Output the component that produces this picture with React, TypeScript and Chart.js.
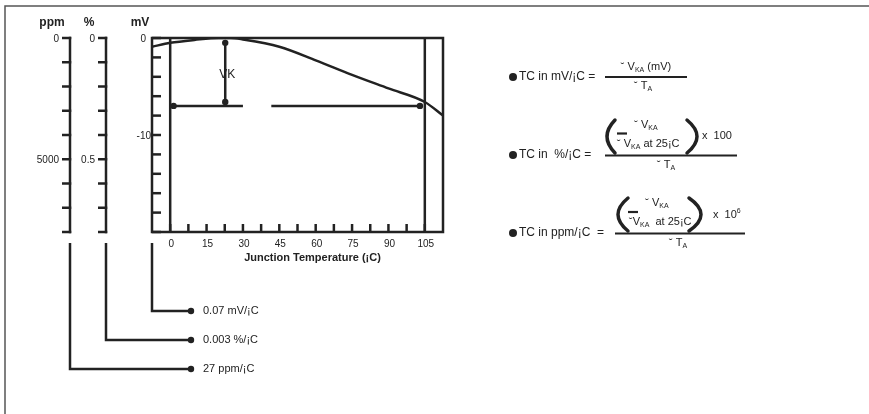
import React, { useEffect, useRef } from "react";
import { Chart, registerables } from "chart.js";

Chart.register(...registerables);

// ---- data ----
const tempC = [-7.5, 0, 10, 20, 25, 30, 45, 60, 75, 90, 105, 112.5];
const vkaMv = [-0.9, -0.5, -0.2, 0, 0, -0.15, -0.9, -2.3, -3.8, -5.2, -6.6, -8.0];

const xTicks = [0, 7.5, 15, 22.5, 30, 37.5, 45, 52.5, 60, 67.5, 75, 82.5, 90, 97.5, 105];
const xTickLabels = [0, 15, 30, 45, 60, 75, 90, 105];
const mvTicks = [0, -2, -4, -6, -8, -10, -12, -14, -16, -18, -20];
const mvTickLabels = [0, -10];
const ppmTicks = [0, 1000, 2000, 3000, 4000, 5000, 6000, 7000, 8000];
const ppmTickLabels = [0, 5000];
const pctTicks = [0, 0.1, 0.2, 0.3, 0.4, 0.5, 0.6, 0.7, 0.8];
const pctTickLabels = [0, 0.5];

const vkArrowT = [22.7, 22.7];
const vkArrowV = [-0.5, -6.6];
const refLineLeftT = [1.4, 30];
const refLineRightT = [41.7, 103];
const refLineV = -7;
const boundT = [0, 105];

const tcResults = ["0.07 mV/\u00a1C", "0.003 %/\u00a1C", "27 ppm/\u00a1C"];

const INK = "#222";
const FONT = '"Liberation Sans", Arial, sans-serif';

type Part = [string, number];

function rich(ctx: CanvasRenderingContext2D, parts: Part[], x: number, y: number, size: number, align: "left" | "center" = "left") {
  const fontOf = (m: number) => `${m ? Math.round(size * 0.62) : size}px ${FONT}`;
  let w = 0;
  for (const [t, m] of parts) {
    ctx.font = fontOf(m);
    w += ctx.measureText(t).width;
  }
  let cx = align === "center" ? x - w / 2 : x;
  ctx.textAlign = "left";
  ctx.textBaseline = "middle";
  for (const [t, m] of parts) {
    ctx.font = fontOf(m);
    const dy = m === 1 ? 3 : m === 2 ? -4 : 0;
    ctx.fillText(t, cx, y + dy);
    cx += ctx.measureText(t).width;
  }
}

function paren(ctx: CanvasRenderingContext2D, x: number, top: number, bottom: number, bulgeX: number) {
  const mid = (top + bottom) / 2;
  const cx = 2 * bulgeX - x;
  ctx.beginPath();
  ctx.moveTo(x, top);
  ctx.quadraticCurveTo(cx, mid, x, bottom);
  ctx.lineWidth = 3.5;
  ctx.lineCap = "round";
  ctx.stroke();
  ctx.lineCap = "butt";
}

function line(ctx: CanvasRenderingContext2D, pts: number[][], w = 2.5) {
  ctx.beginPath();
  ctx.moveTo(pts[0][0], pts[0][1]);
  for (let i = 1; i < pts.length; i++) ctx.lineTo(pts[i][0], pts[i][1]);
  ctx.lineWidth = w;
  ctx.stroke();
}

function dot(ctx: CanvasRenderingContext2D, x: number, y: number, r = 3.2) {
  ctx.beginPath();
  ctx.arc(x, y, r, 0, Math.PI * 2);
  ctx.fill();
}

const decor = {
  id: "decor",
  afterDraw(chart: any) {
    const ctx: CanvasRenderingContext2D = chart.ctx;
    const { x, y, yPpm, yPct } = chart.scales;
    const a = chart.chartArea;
    ctx.save();
    ctx.strokeStyle = INK;
    ctx.fillStyle = INK;

    // outer frame
    ctx.strokeStyle = "#555";
    line(ctx, [[5, 414], [5, 6], [869, 6]], 1.5);
    ctx.strokeStyle = INK;

    // chart box
    ctx.lineWidth = 2.5;
    ctx.strokeRect(a.left, a.top, a.right - a.left, a.bottom - a.top);

    // x ticks (inward)
    for (const t of xTicks) {
      const px = x.getPixelForValue(t);
      line(ctx, [[px, a.bottom], [px, a.bottom - 8]]);
    }
    ctx.font = `10px ${FONT}`;
    ctx.textAlign = "center";
    ctx.textBaseline = "middle";
    for (const t of xTickLabels) ctx.fillText(String(t), x.getPixelForValue(t) + 1, a.bottom + 12);
    ctx.font = `bold 11px ${FONT}`;
    ctx.fillText("Junction Temperature (\u00a1C)", (a.left + a.right) / 2 + 15, a.bottom + 26);

    // mV axis ticks (inward)
    for (const v of mvTicks) {
      const py = y.getPixelForValue(v);
      line(ctx, [[a.left, py], [a.left + 9, py]]);
    }
    ctx.font = `10px ${FONT}`;
    ctx.textAlign = "right";
    for (const v of mvTickLabels) ctx.fillText(String(v), a.left - (v === 0 ? 6 : 1), y.getPixelForValue(v) + 1);

    // ppm and % axes
    const axes = [
      { sc: yPpm, ax: 70, ticks: ppmTicks, labels: ppmTickLabels, name: "ppm", nx: 52 },
      { sc: yPct, ax: 106, ticks: pctTicks, labels: pctTickLabels, name: "%", nx: 89 },
    ];
    for (const A of axes) {
      const t0 = A.sc.getPixelForValue(A.ticks[0]);
      const t1 = A.sc.getPixelForValue(A.ticks[A.ticks.length - 1]);
      line(ctx, [[A.ax, t0 - 1.25], [A.ax, t1 + 1.25]]);
      for (const v of A.ticks) {
        const py = A.sc.getPixelForValue(v);
        line(ctx, [[A.ax - 8, py], [A.ax + 1.25, py]]);
      }
      ctx.font = `10px ${FONT}`;
      ctx.textAlign = "right";
      for (const v of A.labels) ctx.fillText(String(v), A.ax - 11, A.sc.getPixelForValue(v) + 1);
      ctx.font = `bold 12px ${FONT}`;
      ctx.textAlign = "center";
      ctx.fillText(A.name, A.nx, 23);
    }
    ctx.font = `bold 12px ${FONT}`;
    ctx.textAlign = "center";
    ctx.fillText("mV", 140, 23);

    // VK label
    ctx.font = `12px ${FONT}`;
    ctx.fillText("VK", x.getPixelForValue(vkArrowT[0]) + 2, 75);

    // leader lines to results
    const leaders = [
      { lx: a.left, ly: 311 },
      { lx: 106, ly: 340 },
      { lx: 70, ly: 369 },
    ];
    leaders.forEach((L, i) => {
      line(ctx, [[L.lx, a.bottom + 11], [L.lx, L.ly], [190, L.ly]]);
      dot(ctx, 191, L.ly);
      ctx.font = `11px ${FONT}`;
      ctx.textAlign = "left";
      ctx.textBaseline = "middle";
      ctx.fillText(tcResults[i], 203, L.ly);
    });

    // formulas
    const B = "\u02d8 ";
    // 1
    dot(ctx, 513, 77, 4);
    ctx.font = `12px ${FONT}`;
    ctx.textAlign = "left";
    ctx.textBaseline = "middle";
    ctx.fillText("TC in mV/\u00a1C =", 519, 77);
    line(ctx, [[605, 77], [687, 77]], 1.8);
    rich(ctx, [[B + "V", 0], ["KA", 1], [" (mV)", 0]], 646, 67, 11, "center");
    rich(ctx, [[B + "T", 0], ["A", 1]], 643, 86, 11, "center");

    // 2
    dot(ctx, 513, 155, 4);
    ctx.font = `12px ${FONT}`;
    ctx.fillText("TC in  %/\u00a1C =", 519, 155);
    line(ctx, [[605, 155.5], [737, 155.5]], 1.8);
    paren(ctx, 615, 120, 153, 607);
    paren(ctx, 687, 120, 153, 697);
    rich(ctx, [[B + "V", 0], ["KA", 1]], 646, 125, 11, "center");
    line(ctx, [[617, 133.5], [627, 133.5]], 2.2);
    rich(ctx, [[B + "V", 0], ["KA", 1], [" at 25\u00a1C", 0]], 617, 144, 11);
    rich(ctx, [["x  100", 0]], 702, 136, 11);
    rich(ctx, [[B + "T", 0], ["A", 1]], 666, 165, 11, "center");

    // 3
    dot(ctx, 513, 233, 4);
    ctx.font = `12px ${FONT}`;
    ctx.textAlign = "left";
    ctx.textBaseline = "middle";
    ctx.fillText("TC in ppm/\u00a1C  =", 519, 233);
    line(ctx, [[615, 233.5], [745, 233.5]], 1.8);
    paren(ctx, 628, 198, 231, 618);
    paren(ctx, 689, 198, 231, 701);
    rich(ctx, [[B + "V", 0], ["KA", 1]], 657, 203, 11, "center");
    line(ctx, [[628, 212], [638, 212]], 2.2);
    rich(ctx, [["\u02d8V", 0], ["KA", 1], ["  at 25\u00a1C", 0]], 629, 222, 11);
    rich(ctx, [["x  10", 0], ["6", 2]], 713, 215, 11);
    rich(ctx, [[B + "T", 0], ["A", 1]], 678, 243, 11, "center");

    ctx.restore();
  },
};

export default function App() {
  const ref = useRef<HTMLCanvasElement | null>(null);
  useEffect(() => {
    document.body.style.margin = "0";
    const canvas = ref.current!;
    const base = {
      borderColor: INK,
      backgroundColor: INK,
      pointBackgroundColor: INK,
      pointBorderWidth: 0,
      borderWidth: 2.5,
      fill: false,
    };
    const chart = new Chart(canvas, {
      type: "line",
      data: {
        datasets: [
          {
            ...base,
            label: "VKA",
            data: tempC.map((t, i) => ({ x: t, y: vkaMv[i] })),
            cubicInterpolationMode: "monotone",
            pointRadius: 0,
          },
          ...boundT.map((t) => ({
            ...base,
            label: "bound " + t,
            data: [{ x: t, y: mvTicks[0] }, { x: t, y: mvTicks[mvTicks.length - 1] }],
            pointRadius: 0,
          })),
          {
            ...base,
            label: "VK",
            data: vkArrowT.map((t, i) => ({ x: t, y: vkArrowV[i] })),
            pointRadius: 3.2,
          },
          {
            ...base,
            label: "refL",
            data: refLineLeftT.map((t) => ({ x: t, y: refLineV })),
            pointRadius: [3.2, 0],
          },
          {
            ...base,
            label: "refR",
            data: refLineRightT.map((t) => ({ x: t, y: refLineV })),
            pointRadius: [0, 3.2],
          },
        ] as any,
      },
      options: {
        animation: false,
        responsive: false,
        devicePixelRatio: 1,
        layout: { padding: { left: 152, right: 869 - 443, top: 38, bottom: 414 - 232 } },
        plugins: { legend: { display: false }, tooltip: { enabled: false } },
        scales: {
          x: { type: "linear", display: false, min: -7.5, max: 112.5 },
          y: { type: "linear", display: false, min: -20, max: 0 },
          yPpm: { type: "linear", display: false, min: 0, max: 8000, reverse: true },
          yPct: { type: "linear", display: false, min: 0, max: 0.8, reverse: true },
        },
      } as any,
      plugins: [decor],
    });
    return () => chart.destroy();
  }, []);
  return <canvas ref={ref} width={869} height={414} style={{ display: "block" }} />;
}
